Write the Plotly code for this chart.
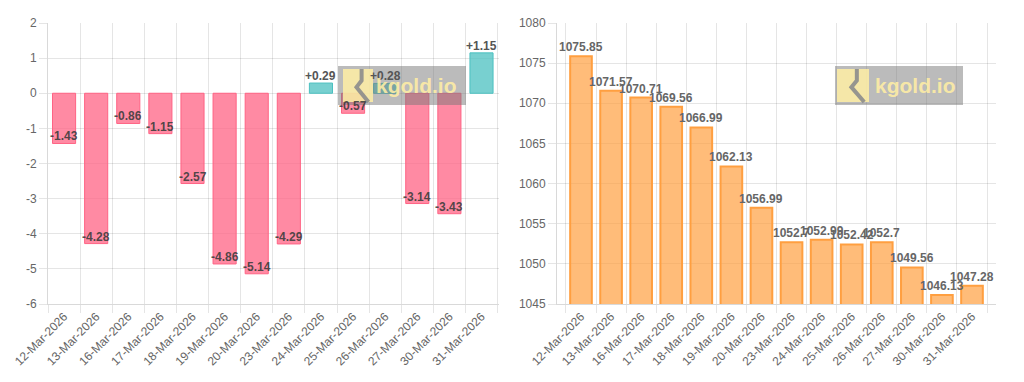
import plotly.graph_objects as go

dates = ["12-Mar-2026", "13-Mar-2026", "16-Mar-2026", "17-Mar-2026", "18-Mar-2026",
         "19-Mar-2026", "20-Mar-2026", "23-Mar-2026", "24-Mar-2026", "25-Mar-2026",
         "26-Mar-2026", "27-Mar-2026", "30-Mar-2026", "31-Mar-2026"]
changes = [-1.43, -4.28, -0.86, -1.15, -2.57, -4.86, -5.14, -4.29, 0.29, -0.57,
           0.28, -3.14, -3.43, 1.15]
prices = [1075.85, 1071.57, 1070.71, 1069.56, 1066.99, 1062.13, 1056.99, 1052.7,
          1052.99, 1052.42, 1052.7, 1049.56, 1046.13, 1047.28]
change_ticks = [2, 1, 0, -1, -2, -3, -4, -5, -6]
change_tick_labels = ["2", "1", "0", "-1", "-2", "-3", "-4", "-5", "-6"]

W, H = 1024, 382
def px(x):
    return x / W
def py(y):
    return 1 - y / H

fig = go.Figure()

fill_colors = ["rgba(75,192,192,0.75)" if v >= 0 else "rgba(255,99,132,0.75)" for v in changes]
line_colors = ["rgb(75,192,192)" if v >= 0 else "rgb(255,99,132)" for v in changes]

fig.add_trace(go.Bar(x=dates, y=changes, xaxis="x", yaxis="y",
                     marker=dict(color=fill_colors, line=dict(color=line_colors, width=1)),
                     hoverinfo="x+y"))
fig.add_trace(go.Bar(x=dates, y=prices, xaxis="x2", yaxis="y2",
                     marker=dict(color="rgba(255,159,64,0.7)", line=dict(color="rgb(255,159,64)", width=2)),
                     hoverinfo="x+y"))

grid = "rgba(0,0,0,0.1)"
FONT = "Arial, Liberation Sans, sans-serif"
axis_common = dict(showgrid=True, gridcolor=grid, gridwidth=1, zeroline=False,
                   showline=True, linecolor="rgba(0,0,0,0.15)", linewidth=1,
                   ticks="outside", tickcolor=grid, ticklen=8, automargin=False,
                   tickfont=dict(family=FONT, size=12, color="#666"))

fig.update_layout(
    width=W, height=H,
    margin=dict(l=0, r=0, t=0, b=0),
    paper_bgcolor="white", plot_bgcolor="white",
    showlegend=False, bargap=0.28,
    xaxis=dict(domain=[px(48), px(499)], anchor="y", type="category",
               tickangle=-45, tickson="boundaries", **axis_common),
    yaxis=dict(domain=[py(304), py(23)], anchor="x", range=[-6, 2],
               tickmode="array", tickvals=change_ticks, ticktext=change_tick_labels,
               **axis_common),
    xaxis2=dict(domain=[px(557), px(996)], anchor="y2", type="category",
                tickangle=-45, tickson="boundaries", **axis_common),
    yaxis2=dict(domain=[py(304), py(23)], anchor="x2", range=[1045, 1080], dtick=5,
                **axis_common),
)

anns = []
for d, v in zip(dates, changes):
    txt = ("+%.2f" % v) if v > 0 else ("%.2f" % v)
    anns.append(dict(x=d, y=v, xref="x", yref="y", text="<b>%s</b>" % txt,
                     showarrow=False, yanchor="bottom", yshift=-2,
                     font=dict(family=FONT, size=12,
                               color="rgba(60,60,60,0.9)" if v < 0 else "#555")))
for d, v in zip(dates, prices):
    txt = ("%.2f" % v).rstrip("0").rstrip(".")
    anns.append(dict(x=d, y=v, xref="x2", yref="y2", text="<b>%s</b>" % txt,
                     showarrow=False, yanchor="bottom", yshift=0,
                     font=dict(family=FONT, size=12, color="#666")))

shapes = []
def logo(x0, y0, x1, y1, ix0, ix1, tx):
    shapes.append(dict(type="rect", xref="paper", yref="paper",
                       x0=px(x0), x1=px(x1), y0=py(y1), y1=py(y0),
                       fillcolor="rgba(120,120,120,0.5)", line=dict(width=0), layer="above"))
    shapes.append(dict(type="rect", xref="paper", yref="paper",
                       x0=px(ix0), x1=px(ix1), y0=py(y1 - 3), y1=py(y0 + 3),
                       fillcolor="rgba(255,238,165,0.85)", line=dict(width=0), layer="above"))
    w = ix1 - ix0
    ya, yb = y0 + 3, y1 - 3
    path = "M %f,%f L %f,%f L %f,%f L %f,%f" % (
        px(ix0 + 0.62 * w), py(ya), px(ix0 + 0.62 * w), py(ya + 0.35 * (yb - ya)),
        px(ix0 + 0.45 * w), py(ya + 0.55 * (yb - ya)), px(ix0 + 0.85 * w), py(yb))
    shapes.append(dict(type="path", xref="paper", yref="paper", path=path,
                       line=dict(color="rgba(140,140,140,0.9)", width=4), layer="above"))
    anns.append(dict(x=px(tx), y=py((y0 + y1) / 2), xref="paper", yref="paper",
                     text="<b>kgold.io</b>", showarrow=False, xanchor="left", yanchor="middle",
                     font=dict(family=FONT, size=21, color="rgba(255,238,165,0.9)")))

logo(338, 66, 466, 105, 343, 373, 374)
logo(835, 66, 963, 105, 837, 869, 873)

fig.update_layout(annotations=anns, shapes=shapes)
fig.write_html("out.html", config={"displayModeBar": False},
               post_script="document.body.style.margin='0';document.body.style.overflow='hidden';")
